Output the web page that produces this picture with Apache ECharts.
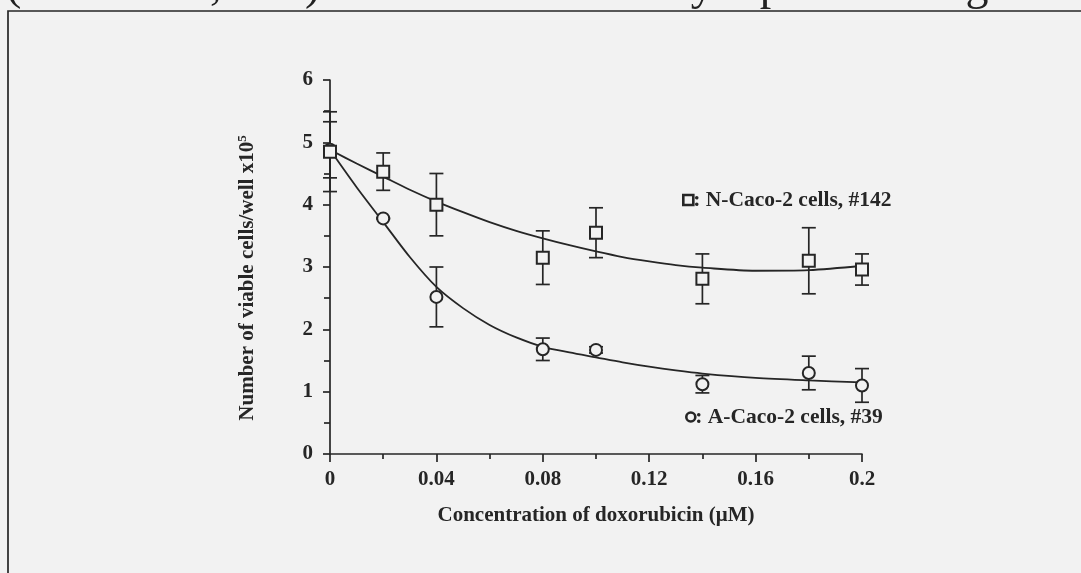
<!DOCTYPE html>
<html>
<head>
<meta charset="utf-8">
<script src="https://cdn.jsdelivr.net/npm/echarts@6/dist/echarts.min.js"></script>
<style>
  html, body { margin: 0; padding: 0; background: #f2f2f2; }
  #chart { width: 1081px; height: 573px; }
</style>
</head>
<body>
<div id="chart"></div>
<script>
// Doxorubicin concentrations tested (µM)
const conc = [0, 0.02, 0.04, 0.08, 0.10, 0.14, 0.18, 0.20];

// N-Caco-2 cells, clone #142: mean and sd of viable cells/well (x10^5)
const nMean = [4.85, 4.53, 4.00, 3.15, 3.55, 2.81, 3.10, 2.96];
const nSd   = [0.64, 0.30, 0.50, 0.43, 0.40, 0.40, 0.53, 0.25];

// A-Caco-2 cells, clone #39
const aMean = [4.88, 3.78, 2.52, 1.68, 1.67, 1.12, 1.30, 1.10];
const aSd   = [0.45, 0.01, 0.48, 0.18, 0.05, 0.14, 0.27, 0.27];

// Fitted trend curves
const fitX  = [0, 0.01, 0.02, 0.03, 0.04, 0.05, 0.06, 0.07, 0.08, 0.09, 0.10, 0.11, 0.12, 0.13, 0.14, 0.16, 0.18, 0.20];
const nFit  = [4.88, 4.66, 4.45, 4.24, 4.05, 3.88, 3.72, 3.58, 3.46, 3.35, 3.25, 3.16, 3.09, 3.03, 2.99, 2.94, 2.95, 3.02];
const aFit  = [4.88, 4.28, 3.72, 3.16, 2.68, 2.34, 2.07, 1.87, 1.72, 1.63, 1.55, 1.47, 1.40, 1.34, 1.29, 1.22, 1.18, 1.15];

// Tick labels
const xTicks = ['0', '0.04', '0.08', '0.12', '0.16', '0.2'];
const yTicks = ['0', '1', '2', '3', '4', '5', '6'];

const FONT = "'Liberation Serif', 'Times New Roman', serif";
const INK = '#262626';
const BG = '#f2f2f2';

const pairs = (xs, ys) => xs.map((x, i) => [x, ys[i]]);
const bars = (m, s) => conc.map((x, i) => [x, m[i] - s[i], m[i] + s[i]]);

function errorBar(params, api) {
  const x = api.value(0);
  const lo = api.coord([x, api.value(1)]);
  const hi = api.coord([x, api.value(2)]);
  const w = 7;
  const style = { stroke: INK, lineWidth: 1.7, fill: null };
  return {
    type: 'group',
    children: [
      { type: 'line', shape: { x1: lo[0], y1: lo[1], x2: hi[0], y2: hi[1] }, style },
      { type: 'line', shape: { x1: lo[0] - w, y1: lo[1], x2: lo[0] + w, y2: lo[1] }, style },
      { type: 'line', shape: { x1: hi[0] - w, y1: hi[1], x2: hi[0] + w, y2: hi[1] }, style }
    ]
  };
}

const chart = echarts.init(document.getElementById('chart'), null, { renderer: 'canvas' });

const axisText = { fontFamily: FONT, fontWeight: 'bold', fontSize: 21, color: INK };

chart.setOption({
  backgroundColor: BG,
  animation: false,
  grid: { left: 330, right: 219, top: 80, bottom: 119 },
  xAxis: {
    type: 'value', min: 0, max: 0.2, interval: 0.04,
    axisLine: { lineStyle: { color: INK, width: 1.7 } },
    axisTick: { length: 8, lineStyle: { color: INK, width: 1.7 } },
    minorTick: { show: true, splitNumber: 2, length: 5, lineStyle: { color: INK, width: 1.7 } },
    splitLine: { show: false },
    axisLabel: Object.assign({ margin: 15, formatter: (v) => xTicks[Math.round(v / 0.04)] }, axisText),
    name: 'Concentration of doxorubicin (\u03bcM)',
    nameLocation: 'middle', nameGap: 51,
    nameTextStyle: Object.assign({}, axisText)
  },
  yAxis: {
    type: 'value', min: 0, max: 6, interval: 1,
    axisLine: { show: true, lineStyle: { color: INK, width: 1.7 } },
    axisTick: { show: true, length: 7, lineStyle: { color: INK, width: 1.7 } },
    minorTick: { show: true, splitNumber: 2, length: 6, lineStyle: { color: INK, width: 1.7 } },
    splitLine: { show: false },
    axisLabel: Object.assign({ margin: 17, formatter: (v) => yTicks[Math.round(v)] }, axisText),
    name: 'Number of viable cells/well x10{sup|5}',
    nameLocation: 'middle', nameGap: 70, nameRotate: 90,
    nameTextStyle: Object.assign({}, axisText, {
      padding: [0, 22, 0, 0],
      rich: { sup: { fontFamily: FONT, fontWeight: 'bold', fontSize: 13, color: INK, verticalAlign: 'bottom', padding: [0, 0, 11, 0] } }
    })
  },
  series: [
    {
      type: 'line', data: pairs(fitX, nFit), smooth: 0.3, showSymbol: false,
      lineStyle: { color: INK, width: 1.8 }, z: 2
    },
    {
      type: 'line', data: pairs(fitX, aFit), smooth: 0.3, showSymbol: false,
      lineStyle: { color: INK, width: 1.8 }, z: 2
    },
    { type: 'custom', renderItem: errorBar, data: bars(nMean, nSd), z: 3 },
    { type: 'custom', renderItem: errorBar, data: bars(aMean, aSd), z: 3 },
    {
      type: 'scatter', data: pairs(conc, aMean), symbol: 'circle', symbolSize: 12,
      itemStyle: { color: BG, borderColor: INK, borderWidth: 2, opacity: 1 }, z: 4
    },
    {
      type: 'scatter', data: pairs(conc, nMean), symbol: 'rect', symbolSize: 12,
      itemStyle: { color: BG, borderColor: INK, borderWidth: 2, opacity: 1 }, z: 5
    }
  ],
  graphic: [
    // page frame around the figure
    { type: 'rect', shape: { x: 8, y: 11, width: 1100, height: 600 },
      style: { fill: null, stroke: '#3c3c3c', lineWidth: 2 }, z: 10 },
    // caption line above the frame
    { type: 'text', left: 6, top: -36,
      style: { text: '(mean \u00b1 sd, n=3) were counted on day 7 post seeding.',
               font: "46px 'Liberation Serif', 'Times New Roman', serif", fill: '#222' }, z: 9 },
    // series labels
    { type: 'text', left: 682, top: 189,
      style: { text: '{sq| }: N-Caco-2 cells, #142',
               font: "bold 21.5px 'Liberation Serif', 'Times New Roman', serif", fill: INK,
               rich: { sq: { width: 10, height: 10, borderColor: INK, borderWidth: 2.6, padding: 0 } } }, z: 10 },
    { type: 'text', left: 685, top: 406,
      style: { text: '{ci| }: A-Caco-2 cells, #39',
               font: "bold 21.5px 'Liberation Serif', 'Times New Roman', serif", fill: INK,
               rich: { ci: { width: 9, height: 9, borderColor: INK, borderWidth: 2.6, borderRadius: 7, padding: 0 } } }, z: 10 }
  ]
});

// short stub of the x axis that reaches left past the y axis
const origin = chart.convertToPixel({ gridIndex: 0 }, [0, 0]);
chart.setOption({
  graphic: [{ type: 'line', shape: { x1: origin[0] - 10, y1: origin[1], x2: origin[0], y2: origin[1] },
              style: { stroke: INK, lineWidth: 1.7 }, z: 10 }]
});
</script>
</body>
</html>
